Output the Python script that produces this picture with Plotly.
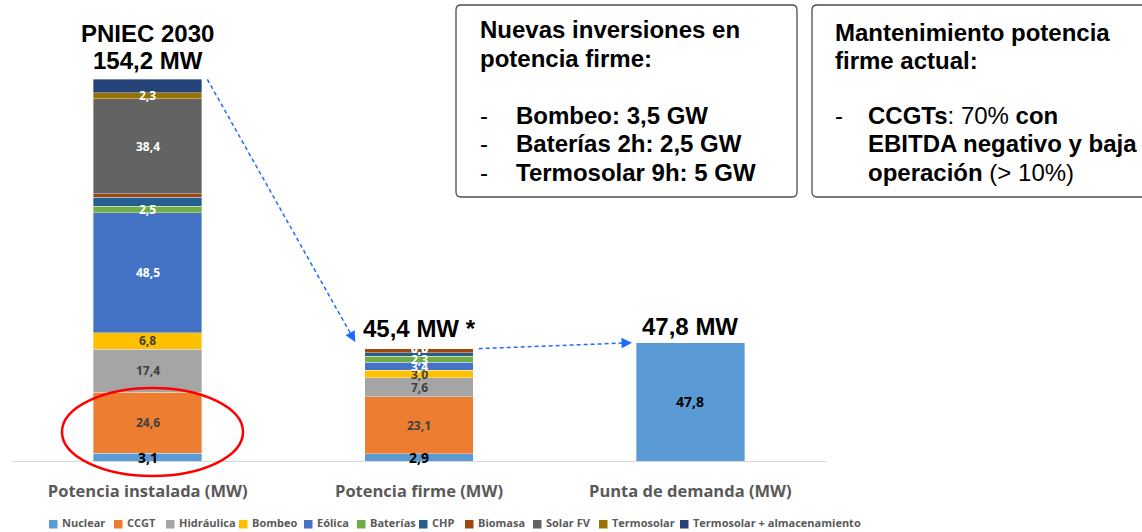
import plotly.graph_objects as go

# ---------------- data ----------------
categories = ["Potencia instalada (MW)", "Potencia firme (MW)", "Punta de demanda (MW)"]
series_names = ["Nuclear", "CCGT", "Hidráulica", "Bombeo", "Eólica", "Baterías",
                "CHP", "Biomasa", "Solar FV", "Termosolar", "Termosolar + almacenamiento"]
nuclear = [3.1, 2.9, 47.8]
ccgt = [24.6, 23.1, 0.0]
hidraulica = [17.4, 7.6, 0.0]
bombeo = [6.8, 3.0, 0.0]
eolica = [48.5, 3.4, 0.0]
baterias = [2.5, 2.3, 0.0]
chp = [3.7, 1.4, 0.0]
biomasa = [1.4, 1.7, 0.0]
solar_fv = [38.4, 0.0, 0.0]
termosolar = [2.3, 0.0, 0.0]
termosolar_alm = [5.5, 0.0, 0.0]
series_values = [nuclear, ccgt, hidraulica, bombeo, eolica, baterias,
                 chp, biomasa, solar_fv, termosolar, termosolar_alm]
# which segments carry a data label (per category)
labelled = {
    "Nuclear": [True, True, True],
    "CCGT": [True, True, False],
    "Hidráulica": [True, True, False],
    "Bombeo": [True, True, False],
    "Eólica": [True, True, False],
    "Baterías": [True, True, False],
    "CHP": [False, False, False],
    "Biomasa": [False, False, False],
    "Solar FV": [True, True, False],
    "Termosolar": [True, True, False],
    "Termosolar + almacenamiento": [False, False, False],
}
top_titles = ["PNIEC 2030", "", ""]
top_totals = ["154,2 MW", "45,4 MW *", "47,8 MW"]

# ---------------- styles ----------------
colors = ["#5B9BD5", "#ED7D31", "#A5A5A5", "#FFC000", "#4472C4", "#70AD47",
          "#255E91", "#9E480E", "#636363", "#997300", "#264478"]
label_colors = ["#000000", "#404040", "#404040", "#404040", "#FFFFFF", "#FFFFFF",
                "#FFFFFF", "#FFFFFF", "#FFFFFF", "#FFFFFF", "#FFFFFF"]
CAL = "Open Sans"
ARIAL = "Liberation Sans, Arial"

W, H = 1142, 532
PX_L, PX_R, PX_T, PX_B = 12, 826, 0, 461
Y_SCALE = 2.475  # px per MW
Y_MAX = (PX_B - PX_T) / Y_SCALE


def px_x(px):
    return (px - PX_L) / (PX_R - PX_L)


def px_y(py):
    return (PX_B - py) / (PX_B - PX_T)


fig = go.Figure()
xs = list(range(len(categories)))
for name, vals, col in zip(series_names, series_values, colors):
    fig.add_trace(go.Bar(
        name=name, x=xs, y=vals,
        marker=dict(color=col, line=dict(color="rgba(255,255,255,0.6)", width=0.6)),
        width=0.4, showlegend=False, hoverinfo="name+y"))

annotations = []
shapes = []

# data labels
cum = [0.0] * len(categories)
for name, vals, lcol in zip(series_names, series_values, label_colors):
    for i, v in enumerate(vals):
        mid = cum[i] + v / 2
        if labelled[name][i]:
            size = 14 if name == "Nuclear" else 12
            annotations.append(dict(
                x=i, y=mid, xref="x", yref="y", showarrow=False,
                text="<b>%s</b>" % f"{v:.1f}".replace(".", ","),
                font=dict(family=CAL, size=size, color=lcol),
                xanchor="center", yanchor="middle"))
        cum[i] += v

totals = cum[:]

# titles above bars
for i in range(len(categories)):
    shift = 19 if i == 0 else (20 if i == 1 else 16)
    annotations.append(dict(x=i, y=totals[i], xref="x", yref="y", showarrow=False,
                            text="<b>%s</b>" % top_totals[i], yshift=shift,
                            font=dict(family=ARIAL, size=24, color="#000000"),
                            xanchor="center", yanchor="middle"))
    if top_titles[i]:
        annotations.append(dict(x=i, y=totals[i], xref="x", yref="y", showarrow=False,
                                text="<b>%s</b>" % top_titles[i], yshift=46,
                                font=dict(family=ARIAL, size=24, color="#000000"),
                                xanchor="center", yanchor="middle"))

# dashed arrows
ARROW_COL = "#1F6BFF"
arrows = [((0.22, totals[0]), (0.765, totals[1] + 2.7), (-5, -9)),
          ((1.22, totals[1]), (1.785, totals[2]), (-10, 0.4))]
for (x0, y0), (x1, y1), (ax, ay) in arrows:
    shapes.append(dict(type="line", xref="x", yref="y", x0=x0, y0=y0, x1=x1, y1=y1,
                       line=dict(color=ARROW_COL, width=1.5, dash="4px,3px")))
    annotations.append(dict(x=x1, y=y1, xref="x", yref="y", ax=ax, ay=ay, text="",
                            showarrow=True, arrowhead=2, arrowsize=1.4, arrowwidth=1.5,
                            arrowcolor=ARROW_COL, standoff=0))

# red ellipse around CCGT + nuclear of first bar
shapes.append(dict(type="circle", xref="paper", yref="paper",
                   x0=px_x(62), x1=px_x(243), y0=px_y(476), y1=px_y(388),
                   line=dict(color="#FF0000", width=2.5)))


# rounded text boxes
def rounded_box(x0, y0, x1, y1, r=5):
    X = lambda p: px_x(p)
    Y = lambda p: px_y(p)
    path = (f"M {X(x0 + r)},{Y(y0)} L {X(x1 - r)},{Y(y0)} Q {X(x1)},{Y(y0)} {X(x1)},{Y(y0 + r)} "
            f"L {X(x1)},{Y(y1 - r)} Q {X(x1)},{Y(y1)} {X(x1 - r)},{Y(y1)} "
            f"L {X(x0 + r)},{Y(y1)} Q {X(x0)},{Y(y1)} {X(x0)},{Y(y1 - r)} "
            f"L {X(x0)},{Y(y0 + r)} Q {X(x0)},{Y(y0)} {X(x0 + r)},{Y(y0)} Z")
    return dict(type="path", xref="paper", yref="paper", path=path,
                line=dict(color="#4D4D4D", width=1.3), fillcolor="rgba(0,0,0,0)")


shapes.append(rounded_box(456, 5, 797, 197))
shapes.append(rounded_box(812, 5, 1160, 197))

box_lines = [
    (478, 30, "<b>Nuevas inversiones en</b>"),
    (478, 58.5, "<b>potencia firme:</b>"),
    (478, 115, "-"), (514, 115, "<b>Bombeo: 3,5 GW</b>"),
    (478, 143.5, "-"), (514, 143.5, "<b>Baterías 2h: 2,5 GW</b>"),
    (478, 172, "-"), (514, 172, "<b>Termosolar 9h: 5 GW</b>"),
    (833, 32.5, "<b>Mantenimiento potencia</b>"),
    (833, 61, "<b>firme actual:</b>"),
    (833, 115, "-"), (866, 115, "<b>CCGTs</b>: 70% <b>con</b>"),
    (866, 143.5, "<b>EBITDA negativo y baja</b>"),
    (866, 172, "<b>operación</b> (> 10%)"),
]
for x, y, t in box_lines:
    annotations.append(dict(x=px_x(x), y=px_y(y), xref="paper", yref="paper", text=t,
                            showarrow=False, xanchor="left", yanchor="middle",
                            font=dict(family=ARIAL, size=24, color="#000000")))

# legend (manual, matches reference layout)
LEGEND_X = [49, 114, 166, 239, 304, 357, 419, 465, 533, 599, 680]
for name, col, lx in zip(series_names, colors, LEGEND_X):
    shapes.append(dict(type="rect", xref="paper", yref="paper",
                       x0=px_x(lx), x1=px_x(lx + 8.5), y0=px_y(528.5), y1=px_y(520),
                       fillcolor=col, line=dict(width=0)))
    annotations.append(dict(x=px_x(lx + 11), y=px_y(522.5), xref="paper", yref="paper",
                            text="<b>%s</b>" % name, showarrow=False,
                            xanchor="left", yanchor="middle",
                            font=dict(family=CAL, size=11, color="#595959")))

fig.update_layout(
    width=W, height=H, barmode="stack", bargap=0.6,
    margin=dict(l=PX_L, r=W - PX_R, t=PX_T, b=H - PX_B),
    paper_bgcolor="white", plot_bgcolor="white",
    annotations=annotations, shapes=shapes,
    xaxis=dict(tickmode="array", tickvals=xs, ticktext=["<b>%s</b>" % c for c in categories],
               range=[-0.5, len(categories) - 0.5], showline=True, linecolor="#D9D9D9",
               linewidth=1, showgrid=False, zeroline=False, ticks="", ticklabelstandoff=15,
               tickfont=dict(family=CAL, size=16.5, color="#595959")),
    yaxis=dict(range=[0, Y_MAX], visible=False, showgrid=False, zeroline=False),
    showlegend=False,
)

fig.write_html("out.html")
